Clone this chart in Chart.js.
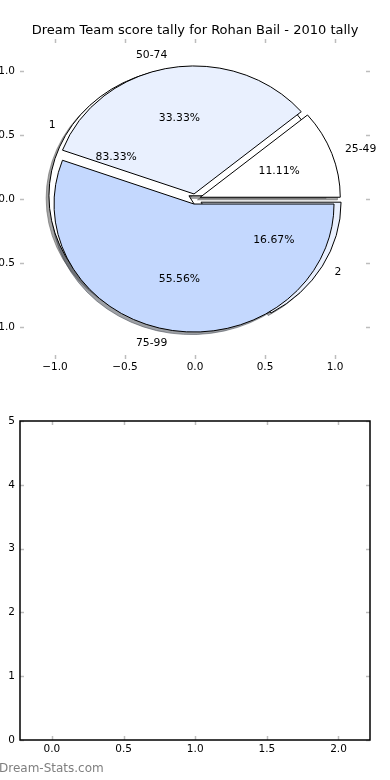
<!DOCTYPE html>
<html lang="en">
<head>
    <meta charset="UTF-8" />
    <title>Dream Team score tally</title>
    <script src="https://cdn.jsdelivr.net/npm/chart.js"></script>
    <style>
        body { margin: 0; background: #fff; width: 390px; height: 780px; overflow: hidden; position: relative; }
        .box { position: absolute; left: -30px; width: 420px; height: 390px; }
        #topBox { top: 0; }
        #bottomBox { top: 390px; }
        .stamp { position: absolute; left: -1px; top: 761px; font: 12px "DejaVu Sans", sans-serif; color: #7f7f7f; }
    </style>
</head>
<body>
    <div class="box" id="topBox"><canvas id="pieChart"></canvas></div>
    <div class="box" id="bottomBox"><canvas id="emptyChart"></canvas></div>
    <div class="stamp">Dream-Stats.com</div>

    <script>
    // score ranges (outer pie, drawn on top)
    const rangeLabels = ['25-49', '50-74', '75-99'];
    const rangeCounts = [1, 3, 5];
    // second pie, drawn underneath
    const groupLabels = ['1', '2'];
    const groupCounts = [5, 1];
    const sliceColours = ['#ffffff', '#e9f0fe', '#c4d8fe'];

    const pieTicks = [-1, -0.5, 0, 0.5, 1];
    const emptyXTicks = [0, 0.5, 1, 1.5, 2];
    const emptyYTicks = [0, 1, 2, 3, 4, 5];

    const tickFont = { family: 'DejaVu Sans', size: 10.5 };
    const fmt = v => v.toFixed(1).replace('-', '\u2212');

    // slices from the counts, matplotlib style: start at 0 deg, counter clockwise
    function wedges(counts, explode) {
        const total = counts.reduce((a, b) => a + b, 0);
        let start = 0;
        return counts.map((c, i) => {
            const end = start + 360 * c / total;
            const mid = (start + end) / 2 * Math.PI / 180;
            const w = {
                t1: start * Math.PI / 180, t2: end * Math.PI / 180, mid,
                dx: explode * Math.cos(mid), dy: explode * Math.sin(mid),
                frac: c / total, colour: sliceColours[i % sliceColours.length]
            };
            start = end;
            return w;
        });
    }

    function shade(hex) {
        const n = parseInt(hex.slice(1), 16);
        const r = Math.round(((n >> 16) & 255) * 0.3), g = Math.round(((n >> 8) & 255) * 0.3), b = Math.round((n & 255) * 0.3);
        return `rgba(${r},${g},${b},0.5)`;
    }

    const piePlugin = {
        id: 'pies',
        afterDatasetsDraw(chart) {
            const { ctx, scales: { x, y } } = chart;
            const px = v => x.getPixelForValue(v), py = v => y.getPixelForValue(v);
            const rx = px(1) - px(0), ry = py(0) - py(1);
            const pies = [
                { labels: groupLabels, w: wedges(groupCounts, 0.05) },
                { labels: rangeLabels, w: wedges(rangeCounts, 0.04) }
            ];
            const path = (w, ox, oy) => {
                const cx = px(w.dx + ox), cy = py(w.dy + oy);
                ctx.beginPath();
                ctx.moveTo(cx, cy);
                ctx.ellipse(cx, cy, rx, ry, 0, -w.t1, -w.t2, true);
                ctx.closePath();
            };
            ctx.save();
            ctx.lineWidth = 1;
            ctx.lineJoin = 'miter';
            // shadows first, then the slices
            pies.forEach(p => p.w.forEach(w => {
                path(w, -0.02, -0.02);
                ctx.fillStyle = shade(w.colour);
                ctx.strokeStyle = shade(w.colour);
                ctx.fill();
                ctx.stroke();
            }));
            pies.forEach(p => p.w.forEach(w => {
                path(w, 0, 0);
                ctx.fillStyle = w.colour;
                ctx.strokeStyle = '#000';
                ctx.fill();
                ctx.stroke();
            }));
            ctx.font = '10.8px "DejaVu Sans"';
            ctx.fillStyle = '#000';
            ctx.textBaseline = 'middle';
            pies.forEach(p => p.w.forEach((w, i) => {
                const lx = w.dx + 1.1 * Math.cos(w.mid), ly = w.dy + 1.1 * Math.sin(w.mid);
                ctx.textAlign = lx > 0 ? 'left' : 'right';
                ctx.fillText(p.labels[i], px(lx), py(ly));
                ctx.textAlign = 'center';
                ctx.fillText((w.frac * 100).toFixed(2) + '%',
                    px(w.dx + 0.6 * Math.cos(w.mid)), py(w.dy + 0.6 * Math.sin(w.mid)));
            }));
            ctx.restore();
        }
    };

    // matplotlib-like inward ticks on all four sides, optional frame
    const inTicks = {
        id: 'inTicks',
        afterDraw(chart, args, opts) {
            const { ctx, chartArea: a, scales: { x, y } } = chart;
            const line = (x1, y1, x2, y2) => { ctx.beginPath(); ctx.moveTo(x1, y1); ctx.lineTo(x2, y2); ctx.stroke(); };
            ctx.save();
            ctx.strokeStyle = '#bdbdbd';
            ctx.lineWidth = 1.5;
            x.ticks.forEach(t => {
                const p = Math.round(x.getPixelForValue(t.value)) + 0.5;
                line(p, a.top, p, a.top + 4);
                line(p, a.bottom, p, a.bottom - 4);
            });
            y.ticks.forEach(t => {
                const p = Math.round(y.getPixelForValue(t.value)) + 0.5;
                line(a.left, p, a.left + 4, p);
                line(a.right, p, a.right - 4, p);
            });
            if (opts.frame) {
                ctx.strokeStyle = '#000';
                ctx.lineWidth = 1.5;
                ctx.strokeRect(a.left, a.top, a.width, a.height);
            }
            ctx.restore();
        }
    };

    function axis(min, max, ticks, callback, pad, fit) {
        return {
            type: 'linear', min, max,
            afterBuildTicks: s => { s.ticks = ticks.map(v => ({ value: v })); },
            afterFit: fit,
            grid: { display: false, drawTicks: false },
            border: { display: false },
            ticks: { font: tickFont, color: '#000', padding: pad, autoSkip: false, maxRotation: 0, callback }
        };
    }

    new Chart(document.getElementById('pieChart'), {
        type: 'scatter',
        data: { datasets: [] },
        plugins: [piePlugin, inTicks],
        options: {
            responsive: true,
            maintainAspectRatio: false,
            animation: false,
            layout: { padding: { left: 0, right: 20, top: 0, bottom: 0 } },
            plugins: {
                legend: { display: false },
                tooltip: { enabled: false },
                title: {
                    display: true,
                    fullSize: false,
                    text: 'Dream Team score tally for Rohan Bail - 2010 tally',
                    color: '#000',
                    font: { family: 'DejaVu Sans', size: 13, weight: 'normal' },
                    padding: { top: 23, bottom: 0.4 }
                },
                inTicks: { frame: false }
            },
            scales: {
                x: axis(-1.25, 1.25, pieTicks, v => fmt(v), 2, s => { s.height = 31; }),
                y: axis(-1.25, 1.25, pieTicks, v => fmt(v), 5, s => { s.width = 50; })
            }
        }
    });

    new Chart(document.getElementById('emptyChart'), {
        type: 'scatter',
        data: { datasets: [] },
        plugins: [inTicks],
        options: {
            responsive: true,
            maintainAspectRatio: false,
            animation: false,
            layout: { padding: { left: 0, right: 20, top: 31, bottom: 0 } },
            plugins: {
                legend: { display: false },
                tooltip: { enabled: false },
                inTicks: { frame: true }
            },
            scales: {
                x: axis(-0.223, 2.22, emptyXTicks, v => fmt(v), 3, s => { s.height = 40; }),
                y: axis(0, 5, emptyYTicks, v => String(v), 5, s => { s.width = 50; })
            }
        }
    });
    </script>
</body>
</html>
